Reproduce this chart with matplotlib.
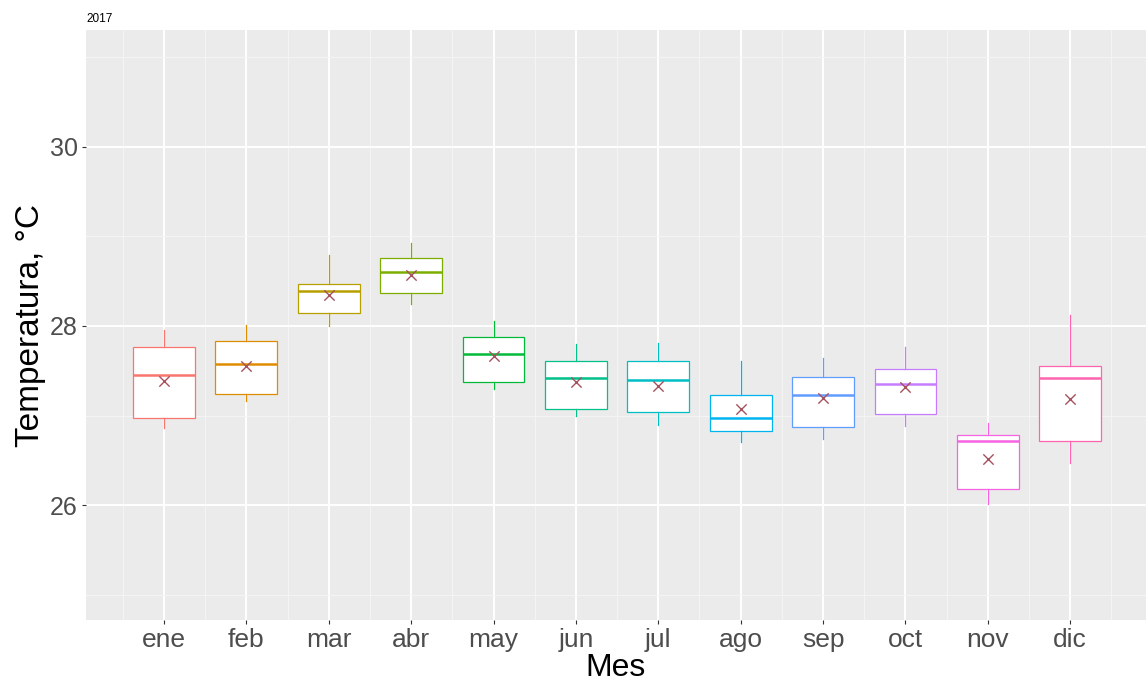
import matplotlib.pyplot as plt
from matplotlib.ticker import FixedLocator

plt.rcParams['font.family'] = ['Liberation Sans', 'DejaVu Sans']

meses = ['ene', 'feb', 'mar', 'abr', 'may', 'jun', 'jul', 'ago', 'sep', 'oct', 'nov', 'dic']
whisk_low = [26.86, 27.16, 28.00, 28.25, 27.30, 26.99, 26.90, 26.70, 26.74, 26.88, 26.01, 26.47]
q1 = [26.97, 27.24, 28.14, 28.37, 27.38, 27.07, 27.04, 26.83, 26.87, 27.02, 26.18, 26.72]
mediana = [27.45, 27.57, 28.39, 28.60, 27.69, 27.42, 27.40, 26.97, 27.23, 27.35, 26.72, 27.42]
q3 = [27.76, 27.83, 28.47, 28.76, 27.88, 27.61, 27.61, 27.23, 27.43, 27.52, 26.78, 27.55]
whisk_high = [27.96, 28.01, 28.79, 28.92, 28.05, 27.80, 27.81, 27.61, 27.64, 27.76, 26.92, 28.12]
media = [27.39, 27.55, 28.35, 28.57, 27.66, 27.38, 27.33, 27.07, 27.20, 27.32, 26.52, 27.19]

# paleta hue por defecto de ggplot para 12 niveles
colores = ['#F8766D', '#DE8C00', '#B79F00', '#7CAE00', '#00BA38', '#00C08B',
           '#00BFC4', '#00B4F0', '#619CFF', '#C77CFF', '#F564E3', '#FF64B0']

stats = []
for i in range(len(meses)):
    stats.append({'label': meses[i], 'whislo': whisk_low[i], 'q1': q1[i], 'med': mediana[i],
                  'q3': q3[i], 'whishi': whisk_high[i], 'fliers': []})

pos = list(range(1, len(meses) + 1))

fig = plt.figure(figsize=(11.46, 6.87), dpi=100)
ax = fig.add_axes([0.075, 0.0975, 0.925, 0.8588])
ax.set_facecolor('#EBEBEB')

bp = ax.bxp(stats, positions=pos, widths=0.75, patch_artist=True, showcaps=False, zorder=3)
for i, c in enumerate(colores):
    bp['boxes'][i].set_facecolor('white')
    bp['boxes'][i].set_edgecolor(c)
    bp['boxes'][i].set_linewidth(0.9)
    bp['medians'][i].set_color(c)
    bp['medians'][i].set_linewidth(1.8)
    for w in bp['whiskers'][2 * i:2 * i + 2]:
        w.set_color(c)
        w.set_linewidth(0.9)

ax.scatter(pos, media, marker='x', s=55, color='#A5505C', linewidths=1.0, zorder=4)

ax.set_xlim(0.053, 12.92)
ax.set_ylim(24.72, 31.30)

ax.set_xticks(pos)
ax.set_xticklabels(meses)
ax.xaxis.set_minor_locator(FixedLocator([p + 0.5 for p in range(0, 13)]))
ax.set_yticks([26, 28, 30])
ax.yaxis.set_minor_locator(FixedLocator([25, 27, 29, 31]))

ax.grid(which='major', color='white', linewidth=1.4, zorder=0)
ax.grid(which='minor', color='#F5F5F5', linewidth=0.7, zorder=0)
ax.set_axisbelow(True)

for s in ax.spines.values():
    s.set_visible(False)

ax.tick_params(axis='both', which='major', length=3, width=0.8, color='#333333',
               labelcolor='#4D4D4D')
ax.tick_params(axis='x', labelsize=19, pad=3)
ax.tick_params(axis='y', labelsize=18, pad=3)
ax.tick_params(which='minor', length=0)

ax.set_xlabel('Mes', fontsize=23, va='center')
ax.xaxis.set_label_coords(0.5, -0.082)
ax.set_ylabel('Temperatura, °C', fontsize=24, va='center')
ax.yaxis.set_label_coords(-0.052, 0.5)

ax.set_title('2017', loc='left', fontsize=8.5, pad=6)

fig.savefig('out.png', dpi=100)
